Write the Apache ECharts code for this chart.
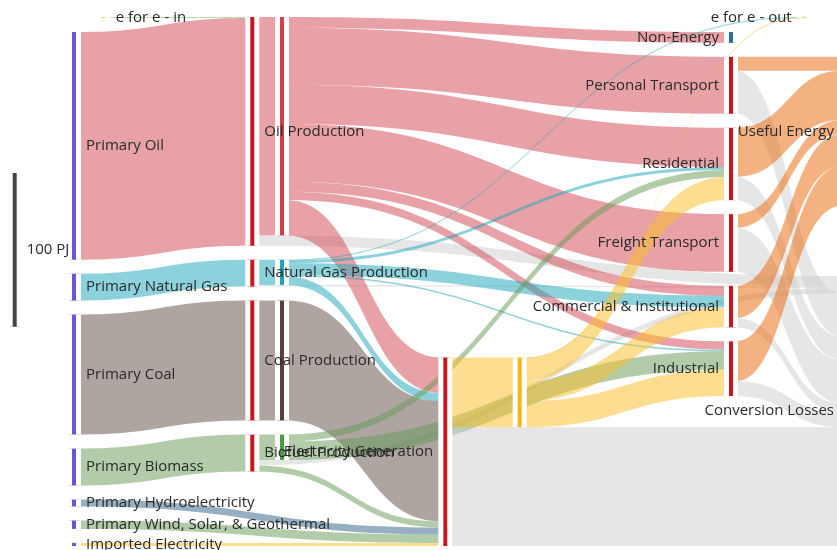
<!DOCTYPE html>
<html>
<head>
<meta charset="utf-8">
<script src="https://cdn.jsdelivr.net/npm/echarts/dist/echarts.min.js"></script>
<style>
html,body{margin:0;padding:0;background:#fff;}
#chart{width:837px;height:550px;}
</style>
</head>
<body>
<div id="chart"></div>
<script>
// ================= DATA (PJ) =================
const primaryNames = ['e for e - in', 'Primary Oil', 'Primary Natural Gas', 'Primary Coal', 'Primary Biomass',
  'Primary Hydroelectricity', 'Primary Wind, Solar, & Geothermal', 'Imported Electricity'];
const productionNames = ['Oil Production', 'Natural Gas Production', 'Coal Production', 'Biofuel Production'];
const productNames = ['Refined Oil', 'Processed Gas', 'Coal Supply', 'Biofuels'];
const sectorNames = ['e for e - out', 'Non-Energy', 'Personal Transport', 'Residential', 'Freight Transport',
  'Commercial & Institutional', 'Industrial'];
const finalNames = ['Useful Energy', 'Conversion Losses'];
const scaleBarPJ = 100;

// [source, target, PJ, fuel]
const primaryFlows = [
  ['e for e - in', 'Oil Production', 0.6, 'efe'],
  ['Primary Oil', 'Oil Production', 148, 'oil'],
  ['Primary Natural Gas', 'Natural Gas Production', 17.5, 'gas'],
  ['Primary Coal', 'Coal Production', 78, 'coal'],
  ['Primary Biomass', 'Biofuel Production', 24, 'bio'],
  ['Primary Hydroelectricity', 'Electricity Generation', 4.5, 'hydro'],
  ['Primary Wind, Solar, & Geothermal', 'Electricity Generation', 5.5, 'wind'],
  ['Imported Electricity', 'Electricity Generation', 2, 'elec']
];
const productionFlows = [
  ['Oil Production', 'Refined Oil', 142, 'oil'],
  ['Oil Production', 'Conversion Losses', 6.6, 'loss'],
  ['Natural Gas Production', 'Processed Gas', 16.4, 'gas'],
  ['Natural Gas Production', 'Conversion Losses', 1.1, 'loss'],
  ['Coal Production', 'Coal Supply', 78, 'coal'],
  ['Biofuel Production', 'Biofuels', 16.5, 'bio'],
  ['Biofuel Production', 'Conversion Losses', 3.5, 'loss']
];
const fuelFlows = [
  ['Refined Oil', 'Non-Energy', 7, 'oil'],
  ['Refined Oil', 'Personal Transport', 37, 'oil'],
  ['Refined Oil', 'Residential', 25.5, 'oil'],
  ['Refined Oil', 'Freight Transport', 37.5, 'oil'],
  ['Refined Oil', 'Commercial & Institutional', 6.5, 'oil'],
  ['Refined Oil', 'Industrial', 5.5, 'oil'],
  ['Refined Oil', 'Electricity Generation', 23, 'oil'],
  ['Processed Gas', 'e for e - out', 0.4, 'gas'],
  ['Processed Gas', 'Residential', 2, 'gas'],
  ['Processed Gas', 'Commercial & Institutional', 7.5, 'gas'],
  ['Processed Gas', 'Industrial', 1, 'gas'],
  ['Processed Gas', 'Electricity Generation', 5.5, 'gas'],
  ['Coal Supply', 'Electricity Generation', 78, 'coal'],
  ['Biofuel Production', 'Electricity Generation', 4, 'bio'],
  ['Biofuels', 'Residential', 4.5, 'bio'],
  ['Biofuels', 'Industrial', 12, 'bio']
];
const electricityFlows = [
  ['Electricity Generation', 'Electricity', 45.3, 'elec'],
  ['Electricity', 'e for e - out', 0.3, 'elec'],
  ['Electricity', 'Residential', 15, 'elec'],
  ['Electricity', 'Commercial & Institutional', 13, 'elec'],
  ['Electricity', 'Industrial', 17, 'elec']
];
const endUseFlows = [
  ['Personal Transport', 'Useful Energy', 9, 'useful'],
  ['Personal Transport', 'Conversion Losses', 28, 'loss'],
  ['Residential', 'Useful Energy', 32, 'useful'],
  ['Residential', 'Conversion Losses', 15, 'loss'],
  ['Freight Transport', 'Useful Energy', 9, 'useful'],
  ['Freight Transport', 'Conversion Losses', 28.5, 'loss'],
  ['Commercial & Institutional', 'Useful Energy', 21, 'useful'],
  ['Commercial & Institutional', 'Conversion Losses', 6, 'loss'],
  ['Industrial', 'Useful Energy', 26, 'useful'],
  ['Industrial', 'Conversion Losses', 9.5, 'loss']
];
const generationLossFlows = [
  ['Electricity Generation', 'Conversion Losses', 77.2, 'loss']
];

// ================= STYLE / LAYOUT =================
const GAP = 14, TOP = 17, HEIGHT = 529, WIDTH = 837, NODE_W = 9;
const fuelColor = {
  efe: '#6fbf5f', oil: '#d1454f', gas: '#19a5b9', coal: '#5f4b41', bio: '#659955',
  hydro: '#2d5f87', wind: '#659955', elec: '#fbbd23', useful: '#e96505', loss: '#cdcdcd'
};
const nodeColor = {
  'e for e - in': '#f3cf4f', 'e for e - out': '#f3cf4f', '100 PJ': '#444',
  'Refined Oil': '#d6404e', 'Processed Gas': '#1aa6bb', 'Coal Supply': '#5b4038', 'Biofuels': '#4c9a44',
  'Electricity': '#f9b418', 'Non-Energy': '#2b6ca8', 'Useful Energy': '#e96505', 'Conversion Losses': '#999'
};
primaryNames.slice(1).forEach(n => nodeColor[n] = '#6659d6');
productionNames.concat(['Electricity Generation'], sectorNames.slice(2)).forEach(n => nodeColor[n] = '#c8161e');

const layoutColumns = [
  { x: 10.2, nodes: ['100 PJ'], label: 'right' },
  { x: 99.2, nodes: ['e for e - in'], label: 'right' },
  { x: 69.5, nodes: primaryNames.slice(1), label: 'right' },
  { x: 247.8, nodes: productionNames, label: 'right' },
  { x: 277.5, nodes: productNames, label: null },
  { x: 440.8, nodes: ['Electricity Generation'], label: 'left' },
  { x: 515.2, nodes: ['Electricity'], label: null },
  { x: 726.5, nodes: sectorNames.slice(1), label: 'left' },
  { x: 799.2, nodes: ['e for e - out'], label: 'left' },
  { x: 841.5, nodes: finalNames, label: 'left' }
];

const flows = [].concat(primaryFlows, productionFlows, fuelFlows, electricityFlows, endUseFlows, generationLossFlows);
const inSum = {}, outSum = {};
flows.forEach(([s, t, v]) => {
  outSum[s] = (outSum[s] || 0) + v;
  inSum[t] = (inSum[t] || 0) + v;
});
const rawValue = { '100 PJ': scaleBarPJ };
const valueOf = n => Math.max(inSum[n] || 0, outSum[n] || 0, rawValue[n] || 0);
// same scale the library derives from the tightest (primary) column
const ky = (HEIGHT - (primaryNames.length - 1) * GAP) / primaryNames.reduce((a, n) => a + valueOf(n), 0);

const yRel = {};
[productionNames, sectorNames].forEach(col => {
  let y = 0;
  col.forEach(n => { yRel[n] = y; y += valueOf(n) * ky + GAP; });
});
['Electricity Generation', 'Conversion Losses'].forEach(n => { yRel[n] = HEIGHT - valueOf(n) * ky; });
const alignTop = {
  'Refined Oil': 'Oil Production', 'Processed Gas': 'Natural Gas Production', 'Coal Supply': 'Coal Production',
  'Biofuels': 'Biofuel Production', 'Electricity': 'Electricity Generation', 'Useful Energy': 'Personal Transport'
};
Object.keys(alignTop).forEach(n => { yRel[n] = yRel[alignTop[n]]; });
yRel['100 PJ'] = 156;

const nodes = [];
let depth = 1;
layoutColumns.forEach(col => col.nodes.forEach(name => {
  const isPrimary = primaryNames.indexOf(name) >= 0;
  const h = valueOf(name) * ky;
  const item = {
    name: name,
    value: rawValue[name],
    depth: isPrimary ? 0 : depth++,
    localX: col.x / WIDTH,
    itemStyle: { color: nodeColor[name], borderColor: '#fff', borderWidth: 5, borderType: [0, NODE_W, h, NODE_W, h] },
    label: col.label ? { position: col.label } : { show: false }
  };
  if (!isPrimary) item.localY = yRel[name] / HEIGHT;
  nodes.push(item);
}));

const links = flows.map(([s, t, v, f]) => ({
  source: s, target: t, value: v,
  lineStyle: { color: fuelColor[f], opacity: 0.5 }
}));

const chart = echarts.init(document.getElementById('chart'), null, { renderer: 'canvas' });
chart.setOption({
  backgroundColor: '#fff',
  animation: false,
  series: [{
    type: 'sankey',
    left: 0, top: TOP, width: WIDTH, height: HEIGHT,
    nodeWidth: NODE_W, nodeGap: GAP,
    layoutIterations: 0, nodeAlign: 'left', draggable: false,
    emphasis: { disabled: true },
    label: { show: true, fontFamily: 'Open Sans', fontSize: 15, color: '#2a2a2a', distance: 5 },
    lineStyle: { curveness: 0.5 },
    data: nodes,
    links: links
  }]
});
</script>
</body>
</html>
